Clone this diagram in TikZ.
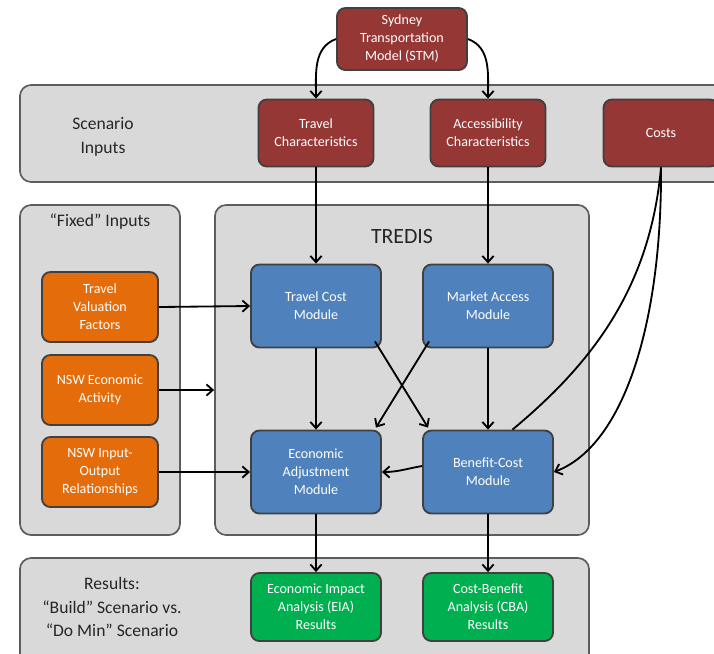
\documentclass[tikz,border=0pt]{standalone}
\usepackage{fontspec}
\setmainfont{Carlito}
\usetikzlibrary{arrows.meta}
\definecolor{stmred}{HTML}{953735}
\definecolor{inorange}{HTML}{E46C0A}
\definecolor{modblue}{HTML}{4F81BD}
\definecolor{resgreen}{HTML}{00B050}
\definecolor{panelgray}{HTML}{D9D9D9}
\definecolor{edgegray}{HTML}{404040}
\definecolor{titlegray}{HTML}{262626}
\begin{document}
\begin{tikzpicture}[x=0.025cm,y=-0.025cm,
	panel/.style={draw=edgegray!85,line width=1.2pt,fill=panelgray,rounded corners=8pt,inner sep=0pt},
	box/.style={draw=edgegray,line width=1.3pt,rounded corners=6pt,text=white,align=center,inner sep=1pt,font=\fontsize{10}{12.8}\selectfont},
	redbox/.style={box,fill=stmred,minimum width=2.875cm,minimum height=1.675cm},
	orangebox/.style={box,fill=inorange,minimum width=2.9cm,minimum height=1.75cm},
	bluebox/.style={box,fill=modblue,minimum width=3.25cm,minimum height=2.075cm},
	greenbox/.style={box,fill=resgreen,minimum width=3.25cm,minimum height=1.7cm},
	title/.style={text=titlegray,align=center,font=\fontsize{12.5}{17}\selectfont},
	arw/.style={-{Straight Barb[length=4.5pt,width=8pt]},line width=1.3pt}]
	\useasboundingbox (0,0) rectangle (714,653);
	\clip (0,0) rectangle (714,653);
	\node [panel,minimum width=17.75cm,minimum height=2.425cm] (scen) at (375,133.5) {};
	\node [panel,minimum width=4cm,minimum height=8.25cm] (fixed) at (100,370) {};
	\node [panel,minimum width=9.35cm,minimum height=8.25cm] (tredis) at (402,370) {};
	\node [panel,minimum width=14.225cm,minimum height=2.8cm] (res) at (304.5,614) {};
	\node [title] (scentxt) at (103,137) {Scenario\\Inputs};
	\node [title] (fixedtxt) at (100,222) {“Fixed” Inputs};
	\node [title,font=\fontsize{15.5}{18}\selectfont] (tredistxt) at (402,236) {TREDIS};
	\node [title] (restxt) at (112,607) {Results:\\“Build” Scenario vs.\\“Do Min” Scenario};
	\node [redbox,minimum width=3.25cm,minimum height=1.55cm] (stm) at (402,39) {Sydney\\Transportation\\Model (STM)};
	\node [redbox] (tc) at (316,133) {Travel\\Characteristics};
	\node [redbox] (ac) at (488,133) {Accessibility\\Characteristics};
	\node [redbox] (costs) at (661,133) {Costs};
	\node [orangebox] (tvf) at (100,307) {Travel\\Valuation\\Factors};
	\node [orangebox] (eco) at (100,390) {NSW Economic\\Activity};
	\node [orangebox] (io) at (100,472) {NSW Input-\\Output\\Relationships};
	\node [bluebox] (tcm) at (316,306) {Travel Cost\\Module};
	\node [bluebox] (mam) at (488,306) {Market Access\\Module};
	\node [bluebox] (eam) at (316,472) {Economic\\Adjustment\\Module};
	\node [bluebox] (bcm) at (488,472) {Benefit-Cost\\Module};
	\node [greenbox] (eia) at (316,607) {Economic Impact\\Analysis (EIA)\\Results};
	\node [greenbox] (cba) at (488,607) {Cost-Benefit\\Analysis (CBA)\\Results};
	\draw [arw] (stm.west) to[out=200,in=90] (tc.north);
	\draw [arw] (stm.east) to[out=-20,in=90] (ac.north);
	\draw [arw] (tc.south) -- (tcm.north);
	\draw [arw] (ac.south) -- (mam.north);
	\draw [line width=1.3pt] (costs.south) .. controls (650,290) and (590,365) .. (bcm.60);
	\draw [arw] (costs.south) .. controls (662,320) and (625,445) .. (bcm.east);
	\draw [arw] (tvf.east) -- (tcm.west);
	\draw [arw] (eco.east) -- (tredis.west |- eco.east);
	\draw [arw] (io.east) -- (eam.west);
	\draw [arw] (tcm.south) -- (eam.north);
	\draw [arw] (mam.south) -- (bcm.north);
	\draw [arw] ([shift={(-7,-7)}]tcm.south east) -- ([shift={(6,-2)}]bcm.north west);
	\draw [arw] ([shift={(7,-7)}]mam.south west) -- ([shift={(-6,-2)}]eam.north east);
	\draw [arw] ([shift={(0,-6)}]bcm.west) to[out=190,in=0] (eam.east);
	\draw [arw] (eam.south) -- (eia.north);
	\draw [arw] (bcm.south) -- (cba.north);
\end{tikzpicture}
\end{document}
